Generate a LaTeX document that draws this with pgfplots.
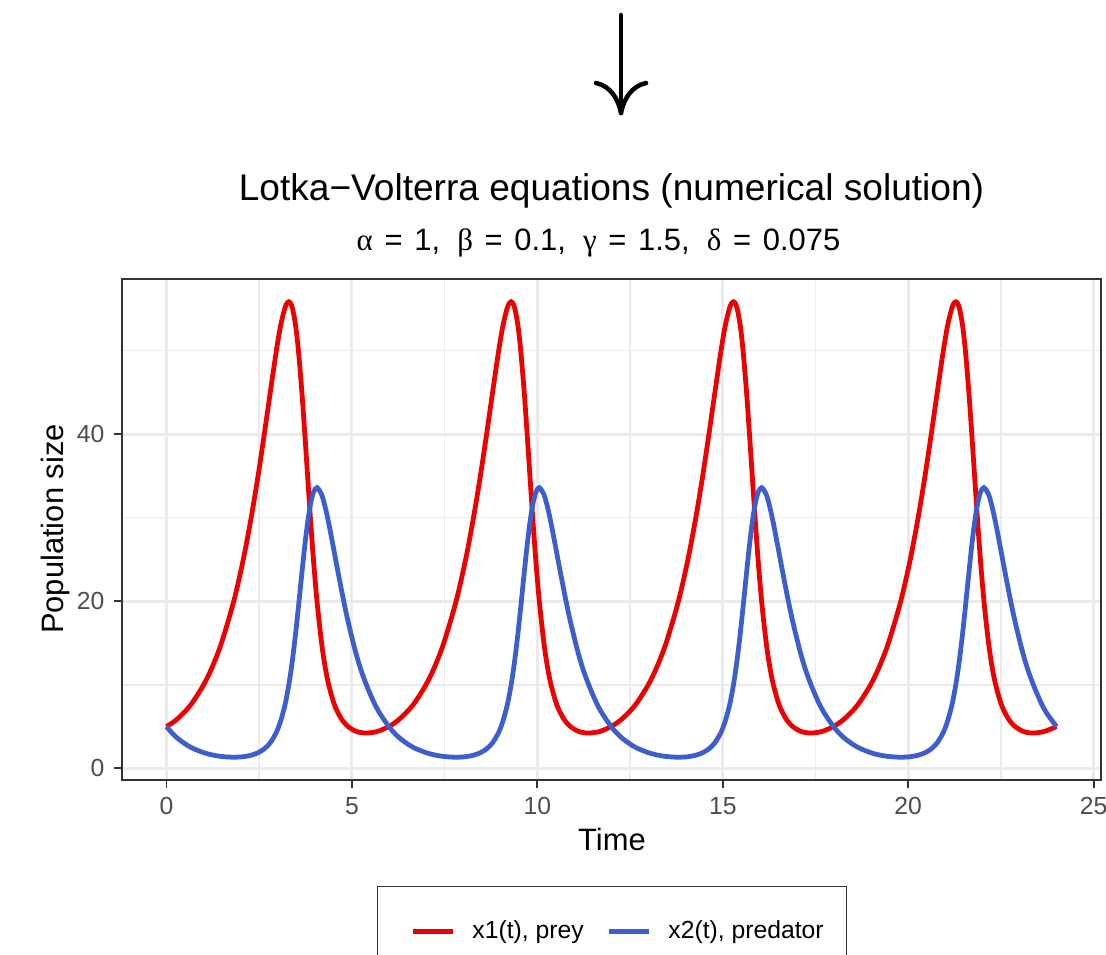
\documentclass[border=0pt]{standalone}
\usepackage{fontspec}
\setmainfont{Liberation Sans}
\newfontfamily\greekfont{Liberation Serif}
\usepackage{pgfplots}
\pgfplotsset{compat=1.18}
\usepackage{pgfplotstable}

\definecolor{preyred}{RGB}{238,0,0}
\definecolor{predblue}{RGB}{61,95,205}
\definecolor{gridgray}{RGB}{235,235,235}
\definecolor{bordergray}{RGB}{51,51,51}
\definecolor{ticktext}{RGB}{77,77,77}

\pgfplotstableread{
t x1 x2
0.000 5 5
0.174 5.5 4.122
0.314 6 3.545
0.540 7 2.822
0.719 8 2.381
1.001 10 1.884
1.221 12 1.621
1.482 15 1.425
1.814 20 1.334
2.071 25 1.398
2.283 30 1.575
2.469 35 1.875
2.637 40 2.338
2.798 45 3.065
2.963 50 4.314
3.078 53 5.67
3.187 55 7.432
3.237 55.574 8.5
3.259 55.72 9.0
3.298 55.834 10
3.334 55.74 11
3.350 55.621 11.5
3.400 55 13.10
3.481 53 16.117
3.557 50 19.29
3.651 45 23.385
3.730 40 26.69
3.805 35 29.406
3.880 30 31.55
3.962 25 33.02
4.058 20 33.59
4.182 15 32.784
4.283 12 31.188
4.374 10 29.344
4.499 8 26.46
4.586 7 24.397
4.706 6 21.635
4.787 5.5 19.83
4.897 5 17.56
5.076 4.5 14.31
5.227 4.293 12
5.390 4.23 10
5.582 4.313 8
5.742 4.5 6.657
5.995 5 5
6.169 5.5 4.122
6.309 6 3.545
6.535 7 2.822
6.714 8 2.381
6.996 10 1.884
7.216 12 1.621
7.477 15 1.425
7.809 20 1.334
8.066 25 1.398
8.278 30 1.575
8.464 35 1.875
8.632 40 2.338
8.793 45 3.065
8.958 50 4.314
9.073 53 5.67
9.182 55 7.432
9.232 55.574 8.5
9.254 55.72 9.0
9.293 55.834 10
9.329 55.74 11
9.345 55.621 11.5
9.395 55 13.10
9.476 53 16.117
9.552 50 19.29
9.646 45 23.385
9.725 40 26.69
9.800 35 29.406
9.875 30 31.55
9.957 25 33.02
10.053 20 33.59
10.177 15 32.784
10.278 12 31.188
10.369 10 29.344
10.494 8 26.46
10.581 7 24.397
10.701 6 21.635
10.782 5.5 19.83
10.892 5 17.56
11.071 4.5 14.31
11.222 4.293 12
11.385 4.23 10
11.577 4.313 8
11.737 4.5 6.657
11.990 5 5
12.164 5.5 4.122
12.304 6 3.545
12.530 7 2.822
12.709 8 2.381
12.991 10 1.884
13.211 12 1.621
13.472 15 1.425
13.804 20 1.334
14.061 25 1.398
14.273 30 1.575
14.459 35 1.875
14.627 40 2.338
14.788 45 3.065
14.953 50 4.314
15.068 53 5.67
15.177 55 7.432
15.227 55.574 8.5
15.249 55.72 9.0
15.288 55.834 10
15.324 55.74 11
15.340 55.621 11.5
15.390 55 13.10
15.471 53 16.117
15.547 50 19.29
15.641 45 23.385
15.720 40 26.69
15.795 35 29.406
15.870 30 31.55
15.952 25 33.02
16.048 20 33.59
16.172 15 32.784
16.273 12 31.188
16.364 10 29.344
16.489 8 26.46
16.576 7 24.397
16.696 6 21.635
16.777 5.5 19.83
16.887 5 17.56
17.066 4.5 14.31
17.217 4.293 12
17.380 4.23 10
17.572 4.313 8
17.732 4.5 6.657
17.985 5 5
18.159 5.5 4.122
18.299 6 3.545
18.525 7 2.822
18.704 8 2.381
18.986 10 1.884
19.206 12 1.621
19.467 15 1.425
19.799 20 1.334
20.056 25 1.398
20.268 30 1.575
20.454 35 1.875
20.622 40 2.338
20.783 45 3.065
20.948 50 4.314
21.063 53 5.67
21.172 55 7.432
21.222 55.574 8.5
21.244 55.72 9.0
21.283 55.834 10
21.319 55.74 11
21.335 55.621 11.5
21.385 55 13.10
21.466 53 16.117
21.542 50 19.29
21.636 45 23.385
21.715 40 26.69
21.790 35 29.406
21.865 30 31.55
21.947 25 33.02
22.043 20 33.59
22.167 15 32.784
22.268 12 31.188
22.359 10 29.344
22.484 8 26.46
22.571 7 24.397
22.691 6 21.635
22.772 5.5 19.83
22.882 5 17.56
23.061 4.5 14.31
23.212 4.293 12
23.375 4.23 10
23.567 4.313 8
23.727 4.5 6.657
24.000 5 5
}\lvdata

\begin{document}
\begin{tikzpicture}[x=0.3559pt,y=0.3559pt]
\path[use as bounding box] (0,0) rectangle (1106,954);
\clip (0,0) rectangle (1106,954);
% arrow
\draw[line width=1.6pt, line cap=round] (621,939) -- (621,843);
\draw[line width=1.6pt, line cap=round] (596,871) .. controls (610,868) and (618,856) .. (621,841);
\draw[line width=1.6pt, line cap=round] (646,871) .. controls (632,868) and (624,856) .. (621,841);
% titles
\node[anchor=base, inner sep=0pt, font=\fontsize{13.2}{15}\selectfont] at (611.5,754) {Lotka\textminus Volterra equations (numerical solution)};
\node[anchor=base, inner sep=0pt, font=\fontsize{11}{13}\selectfont] at (598.5,704)
  {{\greekfont α}\hspace{0.1em} = \hspace{0.1em}1,\ \ {\greekfont β}\hspace{0.1em} = \hspace{0.1em}0.1,\ \ {\greekfont γ}\hspace{0.1em} = \hspace{0.1em}1.5,\ \ {\greekfont δ}\hspace{0.1em} = \hspace{0.1em}0.075};
\node[anchor=base, inner sep=0pt, font=\fontsize{11}{13}\selectfont] at (612,104) {Time};
\node[anchor=base, inner sep=0pt, rotate=90, font=\fontsize{11}{13}\selectfont] at (64,425) {Population size};

\begin{axis}[
  at={(43.42pt,61.93pt)}, anchor=south west,
  scale only axis, width=348.43pt, height=178.31pt,
  xmin=-1.2, xmax=25.2, ymin=-1.39, ymax=58.56,
  xtick={0,5,10,15,20,25}, ytick={0,20,40},
  minor xtick={2.5,7.5,12.5,17.5,22.5}, minor ytick={10,30,50},
  grid=both,
  major grid style={draw=gridgray, line width=1.07pt},
  minor grid style={draw=gridgray, line width=0.53pt},
  axis line style={draw=bordergray, line width=0.7pt},
  tick style={draw=bordergray, line width=0.7pt},
  major tick length=2.74pt, minor tick length=0pt,
  tick align=outside, tick pos=left,
  /pgf/number format/assume math mode=true,
  tick label style={font=\fontsize{8.8}{10}\selectfont, text=ticktext},
  legend columns=2,
  legend cell align=left,
  legend image code/.code={\path (0pt,0pt); \draw[#1, line width=1.7pt] (3.56pt,0pt) -- (17.76pt,0pt); \path (23.8pt,0pt);},
  legend style={at={(0.2605,-0.2116)}, anchor=north west,
    draw=bordergray, line width=0.5pt, fill=white,
    font=\fontsize{8.8}{10}\selectfont,
    nodes={inner xsep=0pt},
    inner xsep=8.19pt, inner ysep=10pt,
    /tikz/every even column/.append style={column sep=4.65pt}},
]
\addplot[preyred, line width=1.7pt, smooth] table[x=t, y=x1] {\lvdata};
\addlegendentry{x1(t), prey}
\addplot[predblue, line width=1.7pt, smooth] table[x=t, y=x2] {\lvdata};
\addlegendentry{x2(t), predator}
\end{axis}
\end{tikzpicture}
\end{document}
